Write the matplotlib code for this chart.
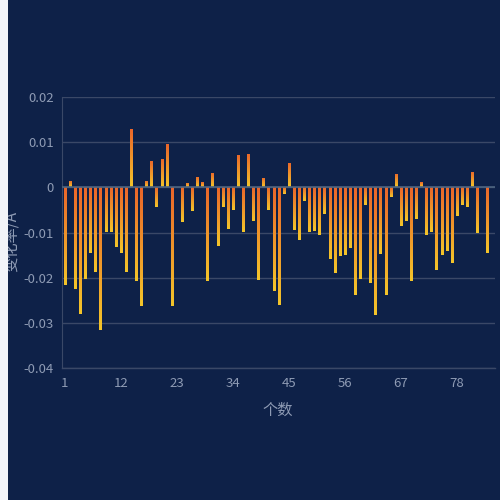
import numpy as np
import matplotlib
matplotlib.use("Agg")
import matplotlib.pyplot as plt
from matplotlib.colors import LinearSegmentedColormap
from matplotlib.patches import Rectangle

plt.rcParams['font.family'] = ['Noto Sans CJK SC', 'DejaVu Sans']

# change rate per item
rates = [
    -0.0216, 0.0014, -0.0225, -0.0279, -0.0202, -0.0144, -0.0186, -0.0315, -0.0098, -0.0098,
    -0.0132, -0.0144, -0.0186, 0.0129, -0.0206, -0.0263, 0.0014, 0.0059, -0.0044, 0.0062,
    0.0095, -0.0263, 0.0001, -0.0076, 0.0010, -0.0052, 0.0024, 0.0011, -0.0208, 0.0031,
    -0.0130, -0.0044, -0.0091, -0.0049, 0.0071, -0.0099, 0.0074, -0.0074, -0.0205, 0.0020,
    -0.0050, -0.0229, -0.0261, -0.0015, 0.0055, -0.0094, -0.0117, -0.0031, -0.0098, -0.0096,
    -0.0106, -0.0059, -0.0158, -0.0189, -0.0152, -0.0149, -0.0133, -0.0237, -0.0202, -0.0038,
    -0.0212, -0.0283, -0.0147, -0.0237, -0.0021, 0.0030, -0.0086, -0.0074, -0.0206, -0.0069,
    0.0011, -0.0105, -0.0098, -0.0182, -0.0149, -0.0141, -0.0168, -0.0063, -0.0038, -0.0044,
    0.0034, -0.0100, 0.0001, -0.0146, 0.0001,
]
items = list(range(1, len(rates) + 1))
x_ticks = [1, 12, 23, 34, 45, 56, 67, 78]
y_ticks = [-0.04, -0.03, -0.02, -0.01, 0, 0.01, 0.02]
y_labels = ['-0.04', '-0.03', '-0.02', '-0.01', '0', '0.01', '0.02']

BG = '#0e2148'
TXT = '#8e9bb4'
GRID = '#3a4867'

fig = plt.figure(figsize=(5, 5), dpi=100, facecolor=BG)
ax = fig.add_axes([62.3 / 500, 1 - 368.3 / 500, 432.7 / 500, 271.3 / 500])
ax.set_facecolor(BG)

cmap = LinearSegmentedColormap.from_list('bar', ['#ea652b', '#f4c52a'])
grad = np.linspace(0, 1, 64).reshape(-1, 1)
w = 0.4
bars = ax.bar(items, rates, width=w, color='none', zorder=3)
for b, v in zip(bars, rates):
    x0 = b.get_x()
    lo, hi = min(0, v), max(0, v)
    im = ax.imshow(grad, cmap=cmap, aspect='auto', origin='upper',
                   extent=[x0, x0 + w, lo, hi], zorder=3)
    im.set_clip_path(b)

ax.set_xlim(0.5, len(rates) + 0.5)
ax.set_ylim(-0.04, 0.02)
ax.set_yticks(y_ticks)
ax.set_yticklabels(y_labels)
ax.set_xticks(x_ticks)
ax.set_xticklabels([str(t) for t in x_ticks])
ax.tick_params(length=0, colors=TXT, labelsize=9.5)
ax.tick_params(axis='y', pad=6)
ax.tick_params(axis='x', pad=6)
ax.grid(axis='y', color=GRID, linewidth=1, zorder=0)
for s in ['top', 'right', 'bottom']:
    ax.spines[s].set_visible(False)
ax.spines['left'].set_color(GRID)
ax.axhline(0, color='#4d6480', linewidth=1.2, zorder=4)
ax.axhline(-0.04, color=GRID, linewidth=1, zorder=2, clip_on=False)

fig.text(278 / 500, 1 - 410 / 500, '个数', color=TXT, fontsize=11, ha='center', va='center')
fig.text(11 / 500, 1 - 242 / 500, '变化率/A', color=TXT, fontsize=11, ha='center', va='center',
         rotation=90)
# white strip on the left edge
fig.patches.append(Rectangle((0, 0), 8 / 500, 1, transform=fig.transFigure,
                             facecolor='#f2f4f9', edgecolor='none', zorder=10))

fig.savefig('out.png', dpi=100, facecolor=BG)
